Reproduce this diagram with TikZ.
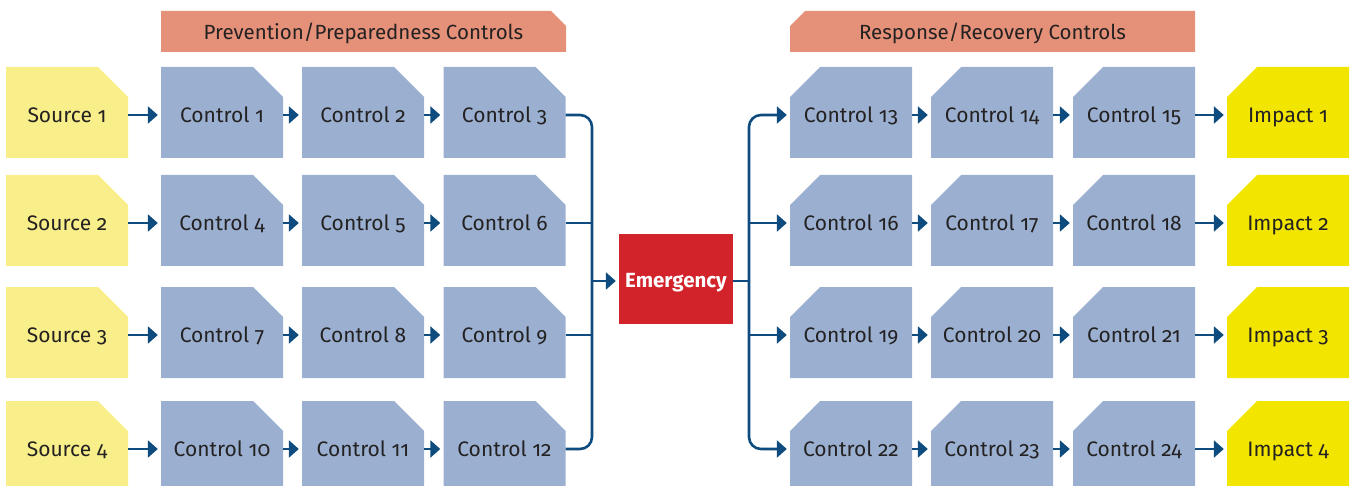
\documentclass[tikz,border=0pt]{standalone}
\usepackage{fontspec}
\setmainfont{Fira Sans}[Numbers=OldStyle]
\usetikzlibrary{arrows.meta,positioning}
\definecolor{srcyellow}{RGB}{248,238,138}
\definecolor{impyellow}{RGB}{242,229,0}
\definecolor{ctrlblue}{RGB}{155,176,209}
\definecolor{headsalmon}{RGB}{229,145,121}
\definecolor{emred}{RGB}{210,35,42}
\definecolor{navy}{RGB}{14,76,127}
\definecolor{ink}{RGB}{35,33,33}

\tikzset{
  % boxes with one corner cut off: fill colour, size of the cut
  cutne/.style 2 args={path picture={
    \fill[#1] (path picture bounding box.south west) -- (path picture bounding box.south east)
      -- ([yshift=-#2]path picture bounding box.north east) -- ([xshift=-#2]path picture bounding box.north east)
      -- (path picture bounding box.north west) -- cycle;}},
  cutnw/.style 2 args={path picture={
    \fill[#1] (path picture bounding box.south west) -- (path picture bounding box.south east)
      -- (path picture bounding box.north east) -- ([xshift=#2]path picture bounding box.north west)
      -- ([yshift=-#2]path picture bounding box.north west) -- cycle;}},
  box/.style={minimum width=122pt, minimum height=91pt, inner sep=0pt, text=ink,
    font=\fontsize{21}{25}\selectfont, text height=19.5pt, text depth=0pt},
  headbar/.style={minimum width=405pt, minimum height=41pt, inner sep=0pt, text=ink,
    font=\fontsize{20.5}{24}\selectfont, text height=16.1pt, text depth=0pt},
  flow/.style={draw=navy, line width=2.6pt},
  tip/.style={-{Triangle[length=10pt,width=17pt]}, shorten >=3pt}
}

\begin{document}
\begin{tikzpicture}[x=1pt, y=-1pt]
  \useasboundingbox (0,0) rectangle (1351,486);

  \node[headbar, cutne={headsalmon}{15pt}] (prevhead) at (363.5,31.5) {Prevention/Preparedness Controls};
  \node[headbar, cutnw={headsalmon}{15pt}] (resphead) at (992.5,31.5) {Response/Recovery Controls};

  \node[minimum width=114pt, minimum height=90pt, inner sep=0pt, fill=emred, text=white,
    font=\fontsize{20.5}{24}\selectfont\bfseries, text height=16.1pt, text depth=0pt] (emerg) at (676,279) {Emergency};

  \foreach \r/\y in {1/112.5, 2/220.5, 3/332.5, 4/446.5}{
    \pgfmathtruncatemacro\ca{3*\r-2}
    \pgfmathtruncatemacro\cb{3*\r-1}
    \pgfmathtruncatemacro\cc{3*\r}
    \pgfmathtruncatemacro\cd{3*\r+10}
    \pgfmathtruncatemacro\ce{3*\r+11}
    \pgfmathtruncatemacro\cf{3*\r+12}
    % left half: source and its prevention controls
    \node[box, cutne={srcyellow}{30pt}] (src\r) at (67,\y) {Source \r};
    \node[box, cutne={ctrlblue}{30pt}] (ctrl\ca) at (222,\y) {Control \ca};
    \node[box, cutne={ctrlblue}{30pt}] (ctrl\cb) at (363,\y) {Control \cb};
    \node[box, cutne={ctrlblue}{30pt}] (ctrl\cc) at (504.5,\y) {Control \cc};
    % right half: response controls and the impact
    \node[box, cutnw={ctrlblue}{30pt}] (ctrl\cd) at (851,\y) {Control \cd};
    \node[box, cutnw={ctrlblue}{30pt}] (ctrl\ce) at (992,\y) {Control \ce};
    \node[box, cutnw={ctrlblue}{30pt}] (ctrl\cf) at (1134,\y) {Control \cf};
    \node[box, cutnw={impyellow}{30pt}] (imp\r) at (1288,\y) {Impact \r};

    \draw[flow, tip] ([yshift=-2.5pt]src\r.east) -- ([yshift=-2.5pt]ctrl\ca.west);
    \draw[flow, tip] ([yshift=-2.5pt]ctrl\ca.east) -- ([yshift=-2.5pt]ctrl\cb.west);
    \draw[flow, tip] ([yshift=-2.5pt]ctrl\cb.east) -- ([yshift=-2.5pt]ctrl\cc.west);
    \draw[flow, tip] ([yshift=-2.5pt]ctrl\cd.east) -- ([yshift=-2.5pt]ctrl\ce.west);
    \draw[flow, tip] ([yshift=-2.5pt]ctrl\ce.east) -- ([yshift=-2.5pt]ctrl\cf.west);
    \draw[flow, tip] ([yshift=-2.5pt]ctrl\cf.east) -- ([yshift=-2.5pt]imp\r.west);
  }

  % collecting bar into the emergency
  \coordinate (lbar) at (592,0);
  \draw[flow, rounded corners=12pt] ([yshift=-2.5pt]ctrl3.east) -- ([yshift=-2.5pt]ctrl3.east -| lbar)
    -- ([yshift=-2.5pt]ctrl12.east -| lbar) -- ([yshift=-2.5pt]ctrl12.east);
  \draw[flow] ([yshift=-2.5pt]ctrl6.east) -- ([yshift=-2.5pt]ctrl6.east -| lbar);
  \draw[flow] ([yshift=-2.5pt]ctrl9.east) -- ([yshift=-2.5pt]ctrl9.east -| lbar);
  \draw[flow, tip] ([yshift=-2pt]emerg.west -| lbar) -- ([yshift=-2pt]emerg.west);

  % spreading bar out of the emergency
  \coordinate (rbar) at (749,0);
  \draw[flow] ([yshift=-2pt]emerg.east) -- ([yshift=-2pt]emerg.east -| rbar);
  \draw[flow, rounded corners=12pt, {Triangle[length=10pt,width=17pt]}-{Triangle[length=10pt,width=17pt]},
    shorten <=3pt, shorten >=3pt]
    ([yshift=-2.5pt]ctrl13.west) -- ([yshift=-2.5pt]ctrl13.west -| rbar)
    -- ([yshift=-2.5pt]ctrl22.west -| rbar) -- ([yshift=-2.5pt]ctrl22.west);
  \draw[flow, tip] ([yshift=-2.5pt]ctrl16.west -| rbar) -- ([yshift=-2.5pt]ctrl16.west);
  \draw[flow, tip] ([yshift=-2.5pt]ctrl19.west -| rbar) -- ([yshift=-2.5pt]ctrl19.west);
\end{tikzpicture}
\end{document}
